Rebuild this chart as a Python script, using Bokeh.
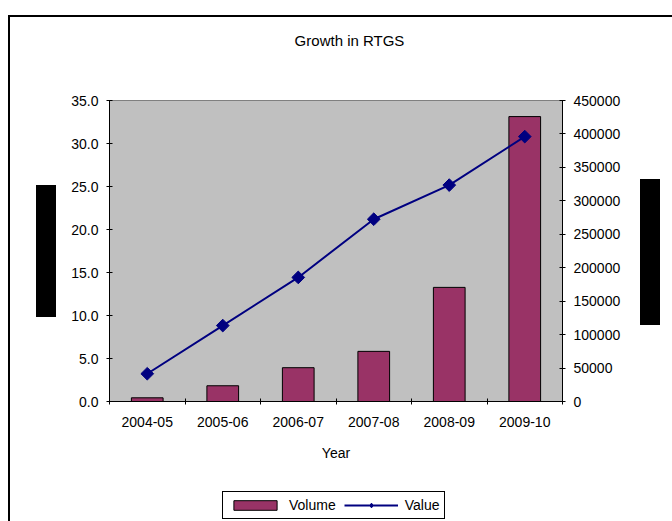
import numpy as np
from bokeh.plotting import figure
from bokeh.layouts import column
from bokeh.models import (Range1d, LinearAxis, FixedTicker, NumeralTickFormatter,
                          Legend, LegendItem, ColumnDataSource, InlineStyleSheet, Label)
from bokeh.embed import file_html
from bokeh.resources import INLINE

categories = ["2004-05", "2005-06", "2006-07", "2007-08", "2008-09", "2009-10"]
volume = [0.43, 1.83, 3.93, 5.83, 13.27, 33.13]
value = [41500, 113500, 185500, 272500, 323500, 396000]
left_ticks = [0, 5, 10, 15, 20, 25, 30, 35]
right_ticks = [0, 50000, 100000, 150000, 200000, 250000, 300000, 350000, 400000, 450000]

FONT = "Liberation Sans"
FS = "14px"
BAR_COLOR = "#993366"
LINE_COLOR = "#000080"

xs = list(range(len(categories)))
src = ColumnDataSource(dict(x=xs, cat=categories, volume=volume, value=value))


def blank(height, xr=(0, 1), yr=(0, 1)):
    f = figure(width=672, height=height, output_backend="svg", toolbar_location=None,
               x_range=Range1d(*xr), y_range=Range1d(*yr),
               min_border=0, x_axis_type=None, y_axis_type=None)
    f.xgrid.visible = False
    f.ygrid.visible = False
    f.outline_line_color = None
    f.background_fill_color = "white"
    f.border_fill_color = "white"
    return f


# ---- title strip (its frame is aligned with the main chart's frame) ----
p_top = blank(60)
p_top.add_layout(Label(x=240, y=20, x_units="screen", y_units="screen",
                       text="Growth in RTGS", text_align="center", text_baseline="middle",
                       text_font=FONT, text_font_size="15px", text_color="black"))

# ---- main chart ----
p = figure(width=672, height=420, output_backend="svg", toolbar_location=None,
           x_range=Range1d(-0.5, len(categories) - 0.5), y_range=Range1d(0, 35),
           min_border_left=109, min_border_right=110, min_border_top=40,
           min_border_bottom=79)
p.extra_y_ranges = {"value": Range1d(0, 450000)}
p.background_fill_color = "#C0C0C0"
p.border_fill_color = "white"
p.outline_line_color = "#808080"
p.outline_line_width = 1
p.xgrid.visible = False
p.ygrid.visible = False

xa = p.xaxis[0]
xa.ticker = FixedTicker(ticks=xs, minor_ticks=[i - 0.5 for i in range(len(categories) + 1)])
xa.major_label_overrides = {i: c for i, c in enumerate(categories)}
xa.major_tick_line_color = None
xa.major_tick_in = 0
xa.major_tick_out = 0
xa.minor_tick_in = 3
xa.minor_tick_out = 3
xa.major_label_standoff = 12
xa.axis_label = "Year"
xa.axis_label_standoff = 15
xa.axis_label_text_font_style = "normal"

ya = p.yaxis[0]
ya.ticker = FixedTicker(ticks=left_ticks)
ya.formatter = NumeralTickFormatter(format="0.0")
ya.major_label_standoff = 8

ra = LinearAxis(y_range_name="value", ticker=FixedTicker(ticks=right_ticks),
                formatter=NumeralTickFormatter(format="0"))
ra.major_label_standoff = 8
p.add_layout(ra, "right")

for ax in [xa, ya, ra]:
    ax.axis_line_color = "black"
    ax.major_label_text_font = FONT
    ax.major_label_text_font_size = FS
    ax.major_label_text_color = "black"
    ax.axis_label_text_font = FONT
    ax.axis_label_text_font_size = FS
    ax.axis_label_text_color = "black"
    ax.minor_tick_line_color = "black" if ax is xa else None
for ax in [ya, ra]:
    ax.major_tick_in = 3
    ax.major_tick_out = 3
    ax.major_tick_line_color = "black"


def draw_series(fig, marker="square", angle=np.pi / 4, size=9, y_range_name=None):
    extra = {"y_range_name": y_range_name} if y_range_name else {}
    b = fig.vbar(x="x", top="volume", width=0.42, source=src,
                 fill_color=BAR_COLOR, line_color="black", line_width=1)
    l = fig.line(x="x", y="value", source=src, line_color=LINE_COLOR, line_width=2, **extra)
    s = fig.scatter(x="x", y="value", source=src, marker=marker, angle=angle,
                    size=size, fill_color=LINE_COLOR, line_color=LINE_COLOR, **extra)
    return b, l, s


draw_series(p, y_range_name="value")

# ---- legend strip: the same series (hidden, outside its view) serve as legend keys ----
p_bot = blank(41, xr=(-1000, -999), yr=(-1000, -999))
k_bar, k_line, k_pts = draw_series(p_bot, marker="diamond", angle=0, size=11)
for r in (k_bar, k_line, k_pts):
    r.visible = False
legend = Legend(items=[LegendItem(label="Volume", renderers=[k_bar]),
                       LegendItem(label="Value", renderers=[k_line, k_pts])],
                orientation="horizontal", location=(113, 2),
                label_text_font=FONT, label_text_font_size=FS,
                label_text_color="black",
                border_line_color="black", border_line_width=1, border_line_alpha=1,
                background_fill_color="white", background_fill_alpha=1,
                glyph_width=54, glyph_height=12, label_standoff=7,
                spacing=8, padding=5, margin=0)
p_bot.add_layout(legend, "center")

# chart-area border (left and top edges) and the two solid blocks beside the axes
css = """
:host { position: relative; }
:host::before {
  content: ""; position: absolute; left: 8px; top: 15px; right: 0; bottom: 0;
  border-left: 2px solid black; border-top: 2px solid black;
  z-index: 10; pointer-events: none;
}
:host::after {
  content: ""; position: absolute; left: 36px; top: 179px; width: 624px; height: 146px;
  z-index: 10; pointer-events: none;
  background: linear-gradient(#000, #000) 0 6px / 20px 132px no-repeat,
              linear-gradient(#000, #000) 604px 0 / 20px 146px no-repeat;
}
"""
page = column(p_top, p, p_bot, spacing=0)
page.stylesheets = [InlineStyleSheet(css=css)]

open("out.html", "w").write(file_html(page, INLINE))
